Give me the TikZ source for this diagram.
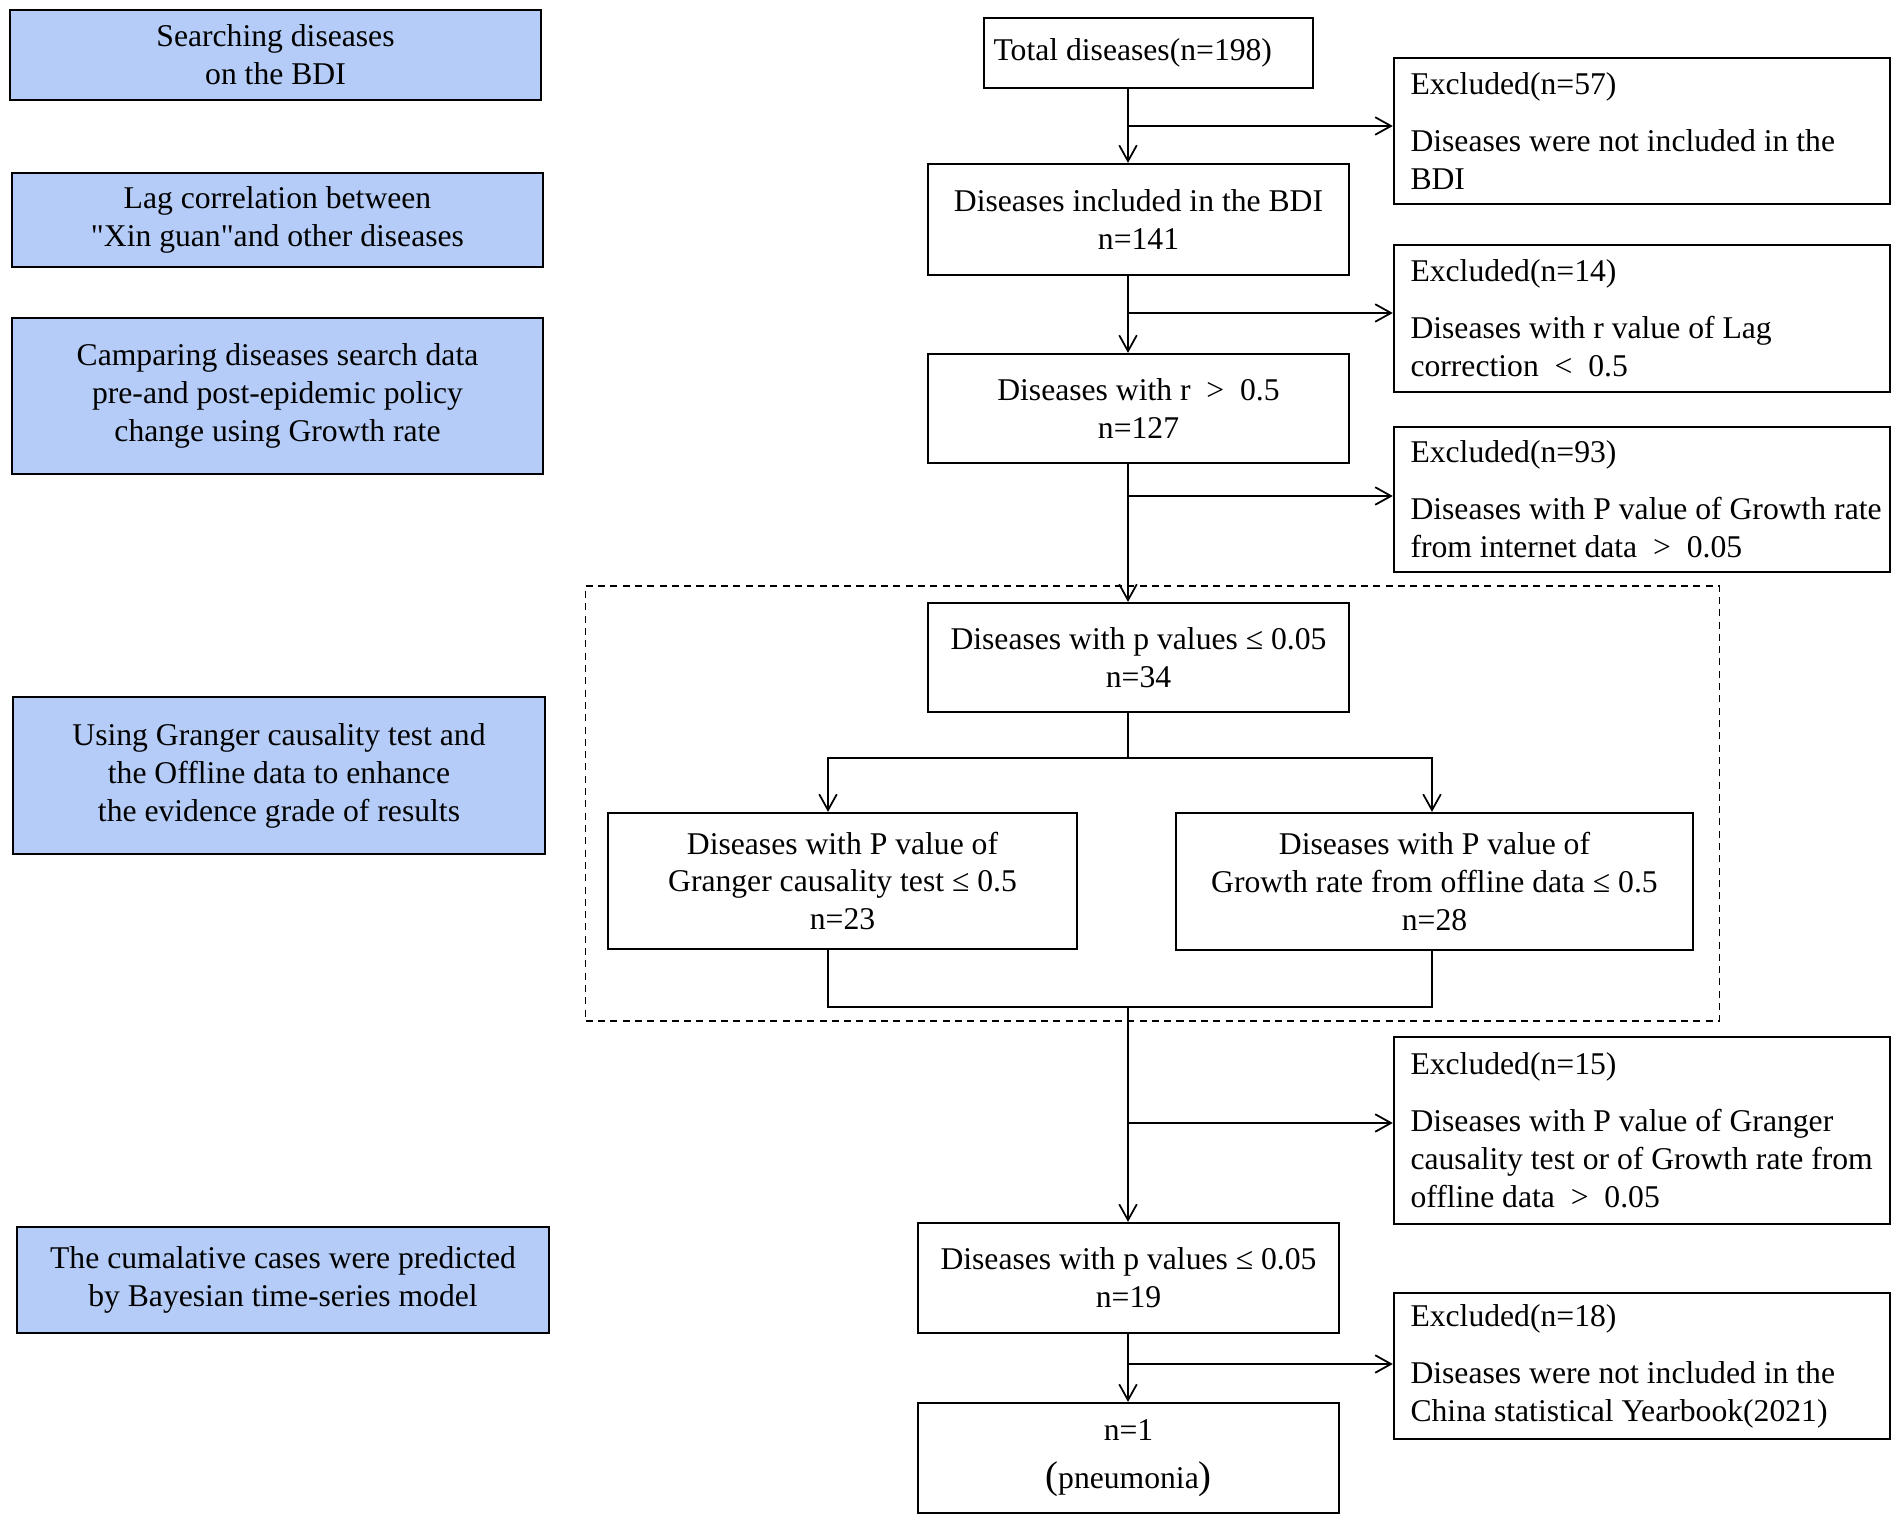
\documentclass[tikz,border=0pt]{standalone}
\usepackage{fontspec}
\setmainfont{Liberation Serif}
\newfontfamily\qfont{Liberation Serif}
\usetikzlibrary{arrows.meta,calc}
\definecolor{bluefill}{RGB}{180,204,247}
\begin{document}
\begin{tikzpicture}[x=0.01cm,y=-0.01cm,
  every node/.style={font=\fontsize{9pt}{10.8pt}\selectfont},
  bluebox/.style={draw, line width=0.6pt, fill=bluefill, align=center, inner sep=0pt},
  mbox/.style={draw, line width=0.6pt, align=center, inner sep=0pt, minimum width=4.21cm},
  exbox/.style={draw, line width=0.6pt, minimum width=4.96cm, inner sep=0pt},
  extext/.style={align=left, anchor=west, inner sep=0pt},
  dashbox/.style={draw, line width=0.45pt, dash pattern=on 2pt off 1.5pt, inner sep=0pt},
  arr/.style={line width=0.5pt, -{Straight Barb[length=4.5pt,width=5pt]}},
  ln/.style={line width=0.5pt}
]
\useasboundingbox (0,0) rectangle (1902,1522);

% left blue boxes
\node[bluebox, minimum width=5.31cm, minimum height=0.90cm] (B1) at (275.5,55) {Searching diseases\\on the BDI};
\node[bluebox, minimum width=5.31cm, minimum height=0.94cm] (B2) at (277.5,220) {Lag correlation between\\{\qfont"}Xin guan{\qfont"}and other diseases};
\node[bluebox, minimum width=5.31cm, minimum height=1.56cm] (B3) at (277.5,396) {Camparing diseases search data\\pre-and post-epidemic policy\\change using Growth rate};
\node[bluebox, minimum width=5.32cm, minimum height=1.57cm] (B4) at (279,775.5) {Using Granger causality test and\\the Offline data to enhance\\the evidence grade of results};
\node[bluebox, minimum width=5.32cm, minimum height=1.06cm] (B5) at (283,1280) {The cumalative cases were predicted\\by Bayesian time-series model};

% dashed frame
\node[dashbox, minimum width=11.33cm, minimum height=4.35cm] (D) at (1152.5,803.5) {};

% main boxes
\node[mbox, minimum width=3.29cm, minimum height=0.70cm] (T) at (1148.5,53) {};
\node[anchor=west, inner sep=0pt] (Tt) at ([xshift=0.10cm]T.west) {Total diseases(n=198)};
\node[mbox, minimum height=1.11cm] (I141) at (1138.5,219.5) {Diseases included in the BDI\\n=141};
\node[mbox, minimum height=1.09cm] (R127) at (1138.5,408.5) {Diseases with r\enspace>\enspace0.5\\n=127};
\node[mbox, minimum height=1.09cm] (P34) at (1138.5,657.5) {Diseases with p values ≤ 0.05\\n=34};
\node[mbox, minimum width=4.69cm, minimum height=1.36cm] (G23) at (842.5,881) {Diseases with P value of\\Granger causality test ≤ 0.5\\n=23};
\node[mbox, minimum width=5.17cm, minimum height=1.37cm] (G28) at (1434.5,881.5) {Diseases with P value of\\Growth rate from offline data ≤ 0.5\\n=28};
\node[mbox, minimum height=1.10cm] (P19) at (1128.5,1278) {Diseases with p values ≤ 0.05\\n=19};
\node[mbox, minimum height=1.10cm] (N1) at (1128.5,1458) {n=1\\[3pt]{\fontsize{11pt}{10.8pt}\selectfont(}pneumonia{\fontsize{11pt}{10.8pt}\selectfont)}};

% excluded boxes
\node[exbox, minimum height=1.46cm] (E57) at (1642,131) {};
\node[extext] (E57t) at ([xshift=0.17cm]E57.west) {Excluded(n=57)\\[5.4pt]Diseases were not included in the\\BDI};
\node[exbox, minimum height=1.47cm] (E14) at (1642,318.5) {};
\node[extext] (E14t) at ([xshift=0.17cm]E14.west) {Excluded(n=14)\\[5.4pt]Diseases with r value of Lag\\correction\enspace<\enspace0.5};
\node[exbox, minimum height=1.45cm] (E93) at (1642,499.5) {};
\node[extext] (E93t) at ([xshift=0.17cm]E93.west) {Excluded(n=93)\\[5.4pt]Diseases with P value of Growth rate\\from internet data\enspace>\enspace0.05};
\node[exbox, minimum height=1.87cm] (E15) at (1642,1130.5) {};
\node[extext] (E15t) at ([xshift=0.17cm]E15.west) {Excluded(n=15)\\[5.4pt]Diseases with P value of Granger\\causality test or of Growth rate from\\offline data\enspace>\enspace0.05};
\node[exbox, minimum height=1.46cm] (E18) at (1642,1366) {};
\node[extext] (E18t) at ([xshift=0.17cm]E18.west) {Excluded(n=18)\\[5.4pt]Diseases were not included in the\\China statistical Yearbook(2021)};

% connectors
\coordinate (ax) at (1128,0);
\draw[arr] (T.south -| ax) -- (I141.north -| ax);
\coordinate (b1) at (1128,126);
\draw[arr] (b1) -- (b1 -| E57.west);
\draw[arr] (I141.south -| ax) -- (R127.north -| ax);
\coordinate (b2) at (1128,313);
\draw[arr] (b2) -- (b2 -| E14.west);
\draw[arr] (R127.south -| ax) -- (P34.north -| ax);
\coordinate (b3) at (1128,496);
\draw[arr] (b3) -- (b3 -| E93.west);
\coordinate (sp) at (1128,758);
\coordinate (gl) at (828,758);
\coordinate (gr) at (1432,758);
\draw[ln] (P34.south -| ax) -- (sp);
\draw[arr] (sp) -- (gl) -- (gl |- G23.north);
\draw[arr] (sp) -- (gr) -- (gr |- G28.north);
\coordinate (jn) at (1128,1007);
\draw[ln] (G23.south -| gl) -- (gl |- jn) -- (gr |- jn) -- (G28.south -| gr);
\draw[arr] (jn) -- (P19.north -| ax);
\coordinate (b4) at (1128,1123);
\draw[arr] (b4) -- (b4 -| E15.west);
\draw[arr] (P19.south -| ax) -- (N1.north -| ax);
\coordinate (b5) at (1128,1364);
\draw[arr] (b5) -- (b5 -| E18.west);
\end{tikzpicture}
\end{document}
